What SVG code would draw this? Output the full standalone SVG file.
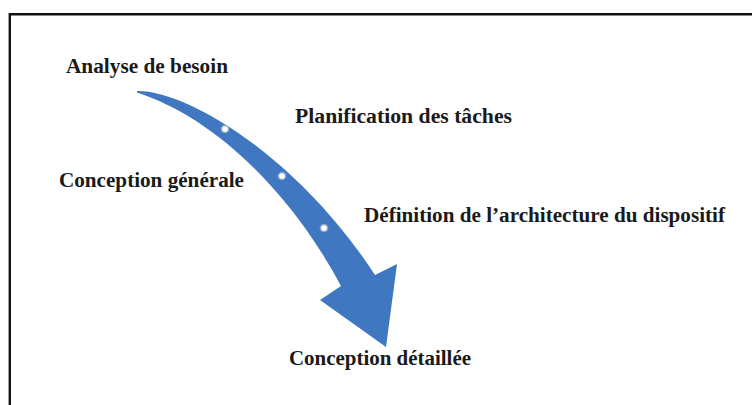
<svg xmlns="http://www.w3.org/2000/svg" width="752" height="405" viewBox="0 0 752 405">
<style>
.lbl{font-family:"Liberation Serif","Times New Roman",serif;font-weight:bold;font-size:20.5px;fill:#1a1a1a}
.dot{fill:#ffffff;stroke:#8fa8c8;stroke-width:1.5}
</style>
<rect x="0" y="0" width="752" height="405" fill="#ffffff"/>
<path d="M9.8 405 V14.2 H752" fill="none" stroke="#111111" stroke-width="2.4"/>
<g id="connectors">
<path id="arrow" d="M137 91 C185 90 296 154 375 275 L397 264 L386 347 L320 300 L341 286 C292 194 216 118 137 92.5 Z" fill="#3f77c0"/>
<circle class="dot" cx="225" cy="129" r="3.6"/>
<circle class="dot" cx="282" cy="176" r="3.6"/>
<circle class="dot" cx="324" cy="228" r="3.6"/>
</g>
<g id="n1"><text class="lbl" x="66" y="73" textLength="162" lengthAdjust="spacingAndGlyphs">Analyse de besoin</text></g>
<g id="n2"><text class="lbl" x="295" y="123" textLength="217" lengthAdjust="spacingAndGlyphs">Planification des tâches</text></g>
<g id="n3"><text class="lbl" x="59" y="187" textLength="185" lengthAdjust="spacingAndGlyphs">Conception générale</text></g>
<g id="n4"><text class="lbl" x="364" y="222" textLength="361" lengthAdjust="spacingAndGlyphs">Définition de l’architecture du dispositif</text></g>
<g id="n5"><text class="lbl" x="289" y="365" textLength="182" lengthAdjust="spacingAndGlyphs">Conception détaillée</text></g>
</svg>
